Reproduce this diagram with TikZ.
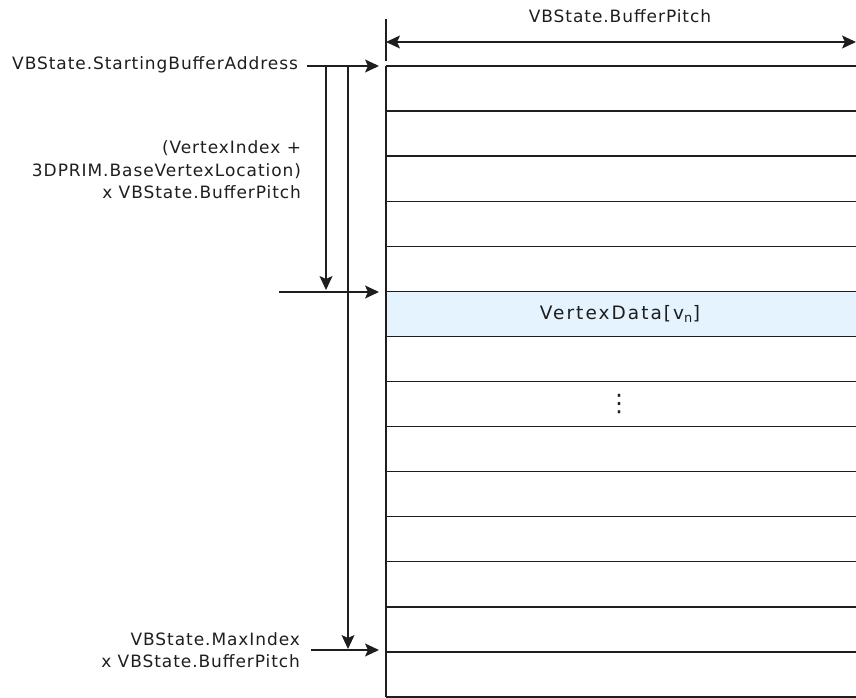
\documentclass[tikz,border=0pt]{standalone}
\usepackage{fontspec}
\setmainfont{DejaVu Sans}[LetterSpace=5.5]
\usetikzlibrary{arrows.meta}
\definecolor{hl}{RGB}{229,243,255}
\definecolor{ln}{RGB}{30,30,30}
\begin{document}
\begin{tikzpicture}[x=1pt,y=-1pt,
  every node/.style={inner sep=0pt,outer sep=0pt,text=ln},
  lbl/.style={font=\fontsize{17}{22.5}\selectfont},
  rowline/.style={draw=ln,line width=1.4pt},
  conn/.style={draw=ln,line width=1.4pt,-{Stealth[length=14pt,width=13pt,inset=3pt]}},
  dimline/.style={draw=ln,line width=1.4pt,{Stealth[length=14pt,width=13pt,inset=3pt]}-{Stealth[length=14pt,width=13pt,inset=3pt]}}]
\useasboundingbox (0,0) rectangle (856,698);
% rows
\pgfmathsetmacro{\rh}{(697-66)/14}
\fill[hl] (386,{66+5*\rh}) rectangle (856,{66+6*\rh});
\foreach \k in {0,...,14}{
  \coordinate (rl\k) at (386,{66+\k*\rh});
  \coordinate (rr\k) at (856,{66+\k*\rh});
  \draw[rowline] (rl\k) -- (rr\k);
}
\draw[rowline] (rl0) -- (rl14);
% dimension
\coordinate (tickt) at (386,19);
\coordinate (tickb) at (386,61);
\draw[rowline] (tickt) -- (tickb);
\coordinate (dimL) at (386,42);
\coordinate (dimR) at (856,42);
\draw[dimline] (dimL) -- (dimR);
\node[lbl] (pitch) at (620,16) {VBState.BufferPitch};
% contents
\node[font=\fontsize{18.5}{22}\selectfont] (vd) at (620,314) {\addfontfeature{LetterSpace=11}VertexData[v\textsubscript{n}]};
\node[font=\fontsize{24}{24}\selectfont] (dots) at (619,404) {⋮};
% left labels
\node[lbl,anchor=east] (start) at (298,65) {VBState.StartingBufferAddress};
\node[lbl,align=right,anchor=east] (offs) at (301,170) {(VertexIndex +\\3DPRIM.BaseVertexLocation)\\x VBState.BufferPitch};
\node[lbl,align=right,anchor=east] (maxi) at (300,650) {VBState.MaxIndex\\x VBState.BufferPitch};
% connectors
\coordinate (s0) at (307,66);
\coordinate (s1) at (379,66);
\draw[conn] (s0) -- (s1);
\coordinate (va0) at (326,66);
\coordinate (va1) at (326,290);
\draw[conn] (va0) -- (va1);
\coordinate (vb0) at (348,66);
\coordinate (vb1) at (348,649);
\draw[conn] (vb0) -- (vb1);
\coordinate (m0) at (279,292);
\coordinate (m1) at (379,292);
\draw[conn] (m0) -- (m1);
\coordinate (b0) at (311,650);
\coordinate (b1) at (379,650);
\draw[conn] (b0) -- (b1);
\end{tikzpicture}
\end{document}
